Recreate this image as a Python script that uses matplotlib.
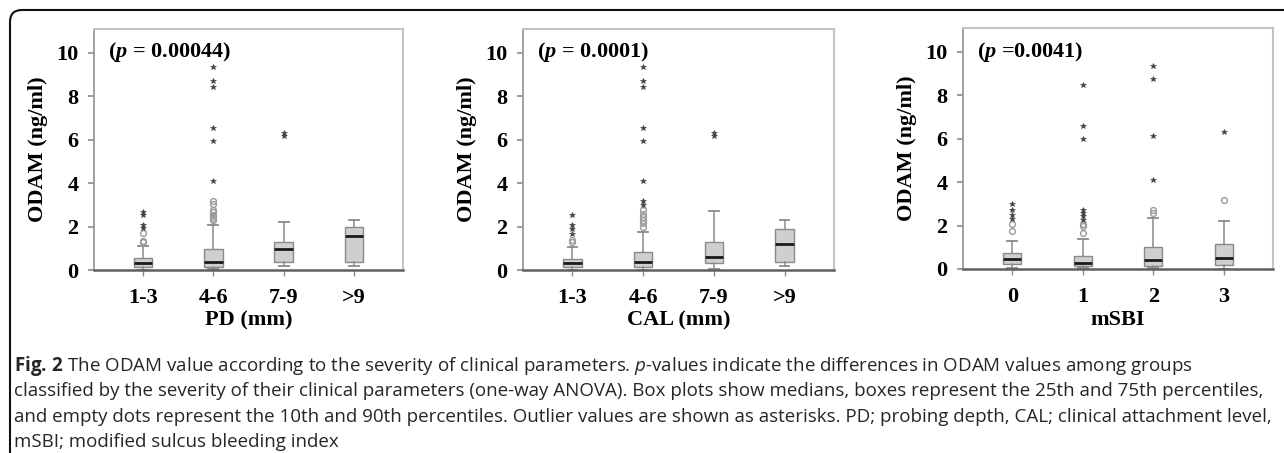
import matplotlib
matplotlib.use("Agg")
import matplotlib.pyplot as plt
from matplotlib.patches import FancyBboxPatch
from matplotlib.transforms import IdentityTransform

# ---------------- data ----------------
panel_xlabels = ["PD (mm)", "CAL (mm)", "mSBI"]
panel_pvalues = ["(p = 0.00044)", "(p = 0.0001)", "(p =0.0041)"]

pd_categories = ["1-3", "4-6", "7-9", ">9"]
pd_q1 = [0.15, 0.16, 0.38, 0.37]
pd_med = [0.33, 0.38, 0.95, 1.58]
pd_q3 = [0.54, 0.95, 1.29, 1.98]
pd_whislo = [0.02, 0.03, 0.20, 0.18]
pd_whishi = [1.10, 2.08, 2.20, 2.30]
pd_circles = [[1.27, 1.34, 1.72], [2.28, 2.35, 2.45, 2.55, 2.65, 2.75, 3.05, 3.2], [], []]
pd_stars = [[1.92, 2.06, 2.55, 2.68], [4.12, 5.95, 6.55, 8.45, 8.7, 9.35], [6.15, 6.3], []]

cal_categories = ["1-3", "4-6", "7-9", ">9"]
cal_q1 = [0.13, 0.16, 0.30, 0.38]
cal_med = [0.34, 0.35, 0.58, 1.22]
cal_q3 = [0.51, 0.85, 1.30, 1.90]
cal_whislo = [0.02, 0.02, 0.03, 0.20]
cal_whishi = [1.07, 1.73, 2.70, 2.30]
cal_circles = [[1.30, 1.40], [2.0, 2.15, 2.3, 2.45, 2.6, 2.75], [], []]
cal_stars = [[1.66, 1.88, 2.08, 2.52], [2.98, 3.18, 4.12, 5.95, 6.55, 8.45, 8.7, 9.35], [6.15, 6.3], []]

sbi_categories = ["0", "1", "2", "3"]
sbi_q1 = [0.23, 0.13, 0.16, 0.19]
sbi_med = [0.45, 0.27, 0.40, 0.51]
sbi_q3 = [0.74, 0.62, 1.02, 1.16]
sbi_whislo = [0.03, 0.03, 0.03, 0.00]
sbi_whishi = [1.30, 1.36, 2.36, 2.19]
sbi_circles = [[1.74, 2.08], [1.64, 2.0, 2.05], [2.6, 2.73], [3.16]]
sbi_stars = [[2.28, 2.48, 2.70, 2.98], [2.24, 2.42, 2.56, 2.70, 5.97, 6.58, 8.48], [4.12, 6.14, 8.74, 9.37], [6.31]]

y_ticks = [0, 2, 4, 6, 8, 10]
caption_lines = [
    r"$\mathbf{Fig.\,2}$ The ODAM value according to the severity of clinical parameters. $\mathit{p}$-values indicate the differences in ODAM values among groups",
    "classified by the severity of their clinical parameters (one-way ANOVA). Box plots show medians, boxes represent the 25th and 75th percentiles,",
    "and empty dots represent the 10th and 90th percentiles. Outlier values are shown as asterisks. PD; probing depth, CAL; clinical attachment level,",
    "mSBI; modified sulcus bleeding index",
]

panels = [
    (pd_categories, pd_q1, pd_med, pd_q3, pd_whislo, pd_whishi, pd_circles, pd_stars),
    (cal_categories, cal_q1, cal_med, cal_q3, cal_whislo, cal_whishi, cal_circles, cal_stars),
    (sbi_categories, sbi_q1, sbi_med, sbi_q3, sbi_whislo, sbi_whishi, sbi_circles, sbi_stars),
]

# ---------------- style ----------------
plt.rcParams["mathtext.fontset"] = "custom"
plt.rcParams["mathtext.rm"] = "Open Sans"
plt.rcParams["mathtext.it"] = "Open Sans:italic"
plt.rcParams["mathtext.bf"] = "Open Sans:bold"
plt.rcParams["mathtext.bfit"] = "Liberation Serif:italic:bold"

W, H = 1284, 453
fig = plt.figure(figsize=(W / 100, H / 100), dpi=100)

serif = "Liberation Serif"
axes_px = [(94, 403, 29, 270), (523, 834, 29, 270), (963, 1273, 28, 269)]

for (cats, q1, med, q3, wlo, whi, circ, stars), (l, r, t, b), xl, pv in zip(
        panels, axes_px, panel_xlabels, panel_pvalues):
    ax = fig.add_axes([l / W, 1 - b / H, (r - l) / W, (b - t) / H])
    pos = list(range(1, len(cats) + 1))
    stats = []
    for i in range(len(cats)):
        stats.append(dict(med=med[i], q1=q1[i], q3=q3[i], whislo=wlo[i],
                          whishi=whi[i], fliers=circ[i]))
    ax.bxp(stats, positions=pos, widths=0.26, patch_artist=True,
           showfliers=True, capwidths=0.14,
           boxprops=dict(facecolor="#cfcfcf", edgecolor="#8a8a8a", linewidth=1.0),
           medianprops=dict(color="#1a1a1a", linewidth=2.0),
           whiskerprops=dict(color="#8a8a8a", linewidth=1.1),
           capprops=dict(color="#8a8a8a", linewidth=1.3),
           flierprops=dict(marker="o", markersize=4.2, markerfacecolor="none",
                           markeredgecolor="#9a9a9a", markeredgewidth=1.0))
    for p, s in zip(pos, stars):
        ax.plot([p] * len(s), s, linestyle="none", marker="*", markersize=4.2,
                color="#404040", markeredgewidth=0.4)

    ax.set_xlim(0.3, len(cats) + 0.7)
    ax.set_ylim(0, 11.1)
    ax.set_yticks(y_ticks)
    ax.set_xticks(pos)
    ax.set_xticklabels(cats)
    for lab in ax.get_xticklabels() + ax.get_yticklabels():
        lab.set_fontfamily(serif)
        lab.set_fontweight("bold")
        lab.set_fontsize(16)
    ax.tick_params(axis="y", length=4, width=1.2, color="#8a8a8a", pad=7)
    ax.tick_params(axis="x", length=4, width=1.0, color="#8a8a8a", pad=9)
    for side in ("top", "right"):
        ax.spines[side].set_color("#c4c4c4")
        ax.spines[side].set_linewidth(1.5)
    ax.spines["left"].set_color("#9a9a9a")
    ax.spines["left"].set_linewidth(1.3)
    ax.spines["bottom"].set_color("#606060")
    ax.spines["bottom"].set_linewidth(1.8)

    ax.set_xlabel(xl, fontfamily=serif, fontweight="bold", fontsize=16, labelpad=2)
    ax.set_ylabel("ODAM (ng/ml)", fontfamily=serif, fontweight="bold", fontsize=16,
                  va="center")
    ax.yaxis.set_label_coords(-56 / (r - l), 0.5)

    ptxt = pv.replace("p", r"$\mathbfit{p}$", 1)
    ax.text(14 / (r - l), (b - 52) / (b - t), ptxt, transform=ax.transAxes,
            fontfamily=serif, fontweight="bold", fontsize=16, ha="left", va="center")

# caption
baselines = [371, 396.5, 422, 447]
for line, yb in zip(caption_lines, baselines):
    fig.text(14 / W, 1 - yb / H, line, fontfamily="Open Sans", fontsize=13.5,
             ha="left", va="baseline", color="#262626")

# rounded frame (extends beyond the right and bottom edge)
frame = FancyBboxPatch((10, -40), 1400, H - 10 + 40, boxstyle="round,pad=0,rounding_size=12",
                       transform=IdentityTransform(), facecolor="none",
                       edgecolor="#111111", linewidth=1.5)
fig.patches.append(frame)

fig.savefig("out.png", dpi=100)
